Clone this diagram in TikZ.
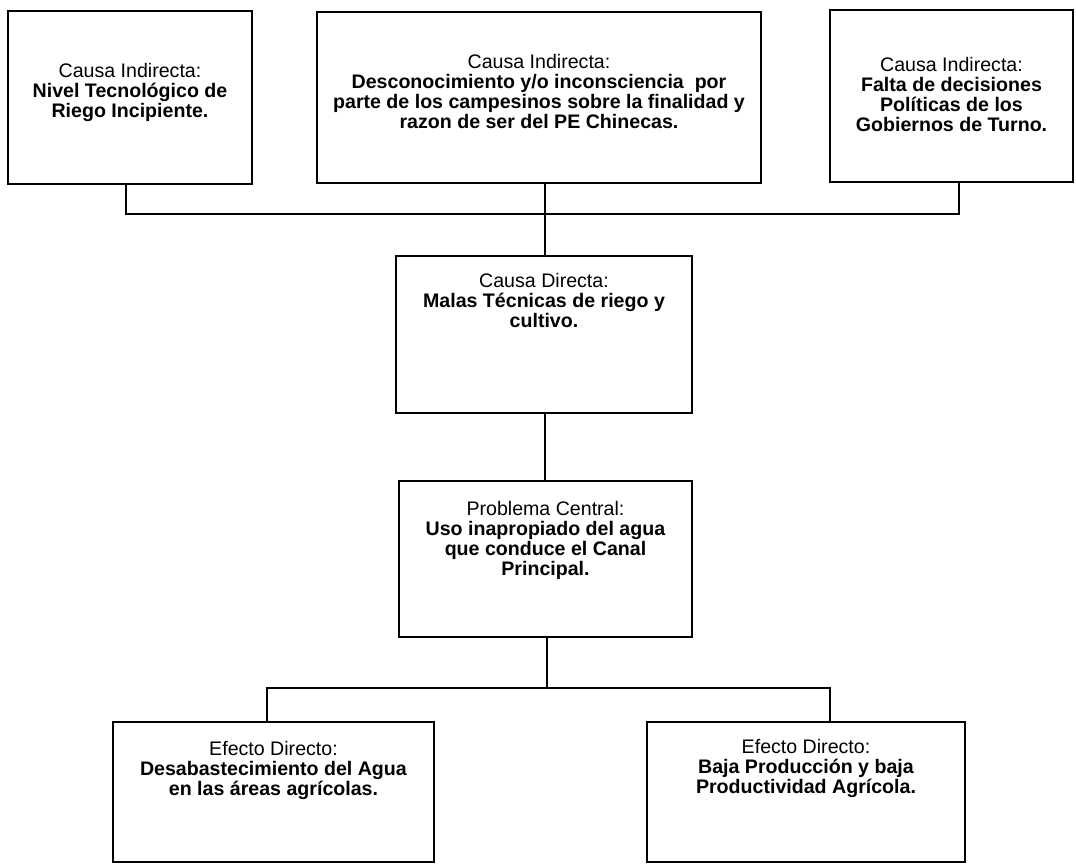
\documentclass[tikz,border=0pt]{standalone}
\usepackage{fontspec}
\setmainfont{Liberation Sans}
\usetikzlibrary{calc}

\begin{document}
\begin{tikzpicture}[x=0.5pt,y=-0.5pt,
   box/.style={draw,line width=1pt,rectangle,inner sep=0pt},
   txt/.style={align=center,inner sep=0pt,
      font=\fontsize{9.8}{10}\selectfont},
   link/.style={line width=1pt}
]
   \useasboundingbox (0,0) rectangle (1076,864);

   % causas indirectas
   \node[box,minimum width=122pt,minimum height=86.5pt] (ci1) at (130,97.5) {};
   \node[box,minimum width=222pt,minimum height=85.5pt] (ci2) at (539,97.5) {};
   \node[box,minimum width=121.5pt,minimum height=86pt] (ci3) at (951.5,96) {};
   \node[txt] (tci1) at ($(ci1)+(0,-5)$) {Causa Indirecta:\\
      \textbf{Nivel Tecnológico de}\\ \textbf{Riego Incipiente.}};
   \node[txt] (tci2) at ($(ci2)+(0,-6)$) {Causa Indirecta:\\
      \textbf{Desconocimiento y/o inconsciencia\ \ por}\\
      \textbf{parte de los campesinos sobre la finalidad y}\\
      \textbf{razon de ser del PE Chinecas.}};
   \node[txt] (tci3) at ($(ci3)+(0,-2)$) {Causa Indirecta:\\
      \textbf{Falta de decisiones}\\ \textbf{Políticas de los}\\
      \textbf{Gobiernos de Turno.}};

   % causa directa y problema central
   \node[box,minimum width=148pt,minimum height=78.5pt] (cd) at (544,334.5) {};
   \node[txt] (tcd) at ($(cd)+(0,-34)$) {Causa Directa:\\
      \textbf{Malas Técnicas de riego y}\\ \textbf{cultivo.}};
   \node[box,minimum width=146.5pt,minimum height=78pt] (pc) at (545.5,559) {};
   \node[txt] (tpc) at ($(pc)+(0,-19)$) {Problema Central:\\
      \textbf{Uso inapropiado del agua}\\ \textbf{que conduce el Canal}\\
      \textbf{Principal.}};

   % efectos directos
   \node[box,minimum width=160.5pt,minimum height=70pt] (ef1) at (273.5,792) {};
   \node[box,minimum width=159pt,minimum height=70pt] (ef2) at (806,792) {};
   \node[txt] (tef1) at ($(ef1)+(0,-22)$) {Efecto Directo:\\
      \textbf{Desabastecimiento del Agua}\\ \textbf{en las áreas agrícolas.}};
   \node[txt] (tef2) at ($(ef2)+(0,-24)$) {Efecto Directo:\\
      \textbf{Baja Producción y baja}\\ \textbf{Productividad Agrícola.}};

   % conectores
   \coordinate (bl) at (126,214);
   \coordinate (bm) at (545,214);
   \coordinate (br) at (959,214);
   \draw[link] (ci1.south -| bl) -- (bl) -- (br) -- (ci3.south -| br);
   \draw[link] (ci2.south -| bm) -- (cd.north -| bm);
   \draw[link] (cd.south -| bm) -- (pc.north -| bm);
   \coordinate (el) at (267,688);
   \coordinate (em) at (547,688);
   \coordinate (er) at (830,688);
   \draw[link] (pc.south -| em) -- (em);
   \draw[link] (ef1.north -| el) -- (el) -- (er) -- (ef2.north -| er);
\end{tikzpicture}
\end{document}
